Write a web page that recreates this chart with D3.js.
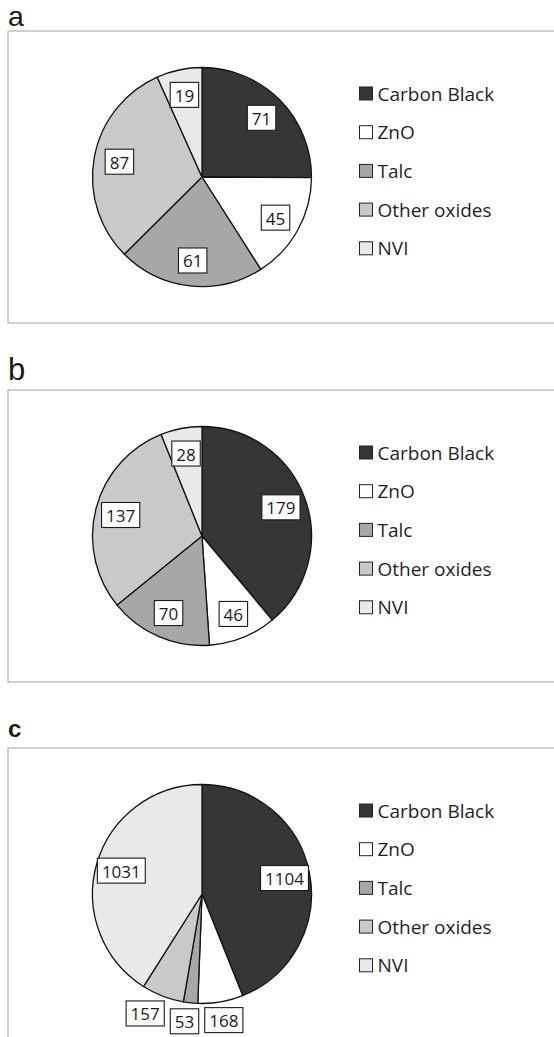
<!DOCTYPE html>
<html>
<head>
<meta charset="utf-8">
<script src="https://cdn.jsdelivr.net/npm/d3@7"></script>
<style>
  html, body { margin: 0; padding: 0; background: #fff; }
  svg { display: block; }
</style>
</head>
<body>
<div id="chart"></div>
<script>
// ---- data ----
const categories = ["Carbon Black", "ZnO", "Talc", "Other oxides", "NVI"];
const valuesA = [71, 45, 61, 87, 19];
const valuesB = [179, 46, 70, 137, 28];
const valuesC = [1104, 168, 53, 157, 1031];
const panelLetters = ["a", "b", "c"];
const panelValues = [valuesA, valuesB, valuesC];

// ---- style ----
const palette = ["#363636", "#ffffff", "#a6a7a9", "#c8c9cb", "#e8e9eb"];
const W = 554, H = 1037;
const boxTops = [31, 390, 748];
const letterBaselines = [25.5, 380, 737];
const letterStyles = [
  {size: 28.5, weight: "normal"},
  {size: 31, weight: "normal"},
  {size: 24, weight: "bold"}
];
const boxHeight = 292;
const cx = 202, cyOff = 146, R = 109.5;
const labelR = 84, outerR = 128;
const legendX = 359.5, legendY0 = 62.5, legendStep = 38.7, sq = 13;

const svg = d3.select("#chart").append("svg")
  .attr("width", W).attr("height", H);

const color = d3.scaleOrdinal().domain(categories).range(palette);
const pie = d3.pie().sort(null).value(d => d.value);
const arc = d3.arc().innerRadius(0).outerRadius(R);

panelValues.forEach((vals, i) => {
  const top = boxTops[i];
  const g = svg.append("g");

  // panel letter
  g.append("text")
    .attr("x", 8).attr("y", letterBaselines[i])
    .attr("font-family", "'Liberation Sans', Arial, sans-serif")
    .attr("font-size", letterStyles[i].size)
    .attr("font-weight", letterStyles[i].weight)
    .attr("fill", "#1a1a1a")
    .text(panelLetters[i]);

  // frame
  g.append("rect")
    .attr("x", 8).attr("y", top)
    .attr("width", 620).attr("height", boxHeight)
    .attr("fill", "none")
    .attr("stroke", "#bdbdbd")
    .attr("stroke-width", 1.4);

  const data = categories.map((c, k) => ({cat: c, value: vals[k]}));
  const arcs = pie(data);
  const cy = top + cyOff;
  const pg = g.append("g").attr("transform", `translate(${cx},${cy})`);

  pg.selectAll("path.slice").data(arcs).join("path")
    .attr("class", "slice")
    .attr("d", arc)
    .attr("fill", d => color(d.data.cat))
    .attr("stroke", "#111")
    .attr("stroke-width", 1.3)
    .attr("stroke-linejoin", "round");

  // labels
  const labels = arcs.map(d => {
    const mid = (d.startAngle + d.endAngle) / 2;
    return {d, mid, text: String(d.data.value)};
  });
  const lg = pg.append("g");
  labels.forEach(l => {
    l.t = lg.append("text")
      .attr("font-family", "'Open Sans', 'Noto Sans', sans-serif")
      .attr("font-size", 17)
      .attr("fill", "#1a1a1a")
      .attr("text-anchor", "middle")
      .attr("dominant-baseline", "central")
      .text(l.text);
    l.w = l.t.node().getComputedTextLength() + 9;
    l.h = 25;
    const span = l.d.endAngle - l.d.startAngle;
    const chord = 2 * labelR * Math.sin(Math.min(span, Math.PI) / 2);
    l.outside = chord < l.w;
    const rr = l.outside ? outerR : labelR;
    l.x = Math.sin(l.mid) * rr;
    l.y = -Math.cos(l.mid) * rr;
  });
  // resolve overlaps among outside labels (bottom region), walking right to left
  const outs = labels.filter(l => l.outside).sort((a, b) => b.x - a.x);
  for (let k = 1; k < outs.length; k++) {
    const prev = outs[k - 1], cur = outs[k];
    const maxRight = prev.x - prev.w / 2 - 6;
    if (cur.x + cur.w / 2 > maxRight) cur.x = maxRight - cur.w / 2;
  }
  labels.forEach(l => {
    lg.insert("rect", "text")
      .attr("x", l.x - l.w / 2).attr("y", l.y - l.h / 2)
      .attr("width", l.w).attr("height", l.h)
      .attr("fill", "#fff")
      .attr("stroke", "#1a1a1a")
      .attr("stroke-width", 1.1);
    l.t.attr("x", l.x).attr("y", l.y + 0.5);
  });

  // legend
  const leg = g.append("g");
  categories.forEach((c, k) => {
    const y = top + legendY0 + k * legendStep;
    leg.append("rect")
      .attr("x", legendX).attr("y", y - sq / 2)
      .attr("width", sq).attr("height", sq)
      .attr("fill", color(c))
      .attr("stroke", "#222")
      .attr("stroke-width", 1);
    leg.append("text")
      .attr("x", legendX + sq + 5).attr("y", y)
      .attr("dominant-baseline", "central")
      .attr("font-family", "'Open Sans', 'Noto Sans', sans-serif")
      .attr("font-size", 19)
      .attr("fill", "#1f1f1f")
      .text(c);
  });
});
</script>
</body>
</html>
